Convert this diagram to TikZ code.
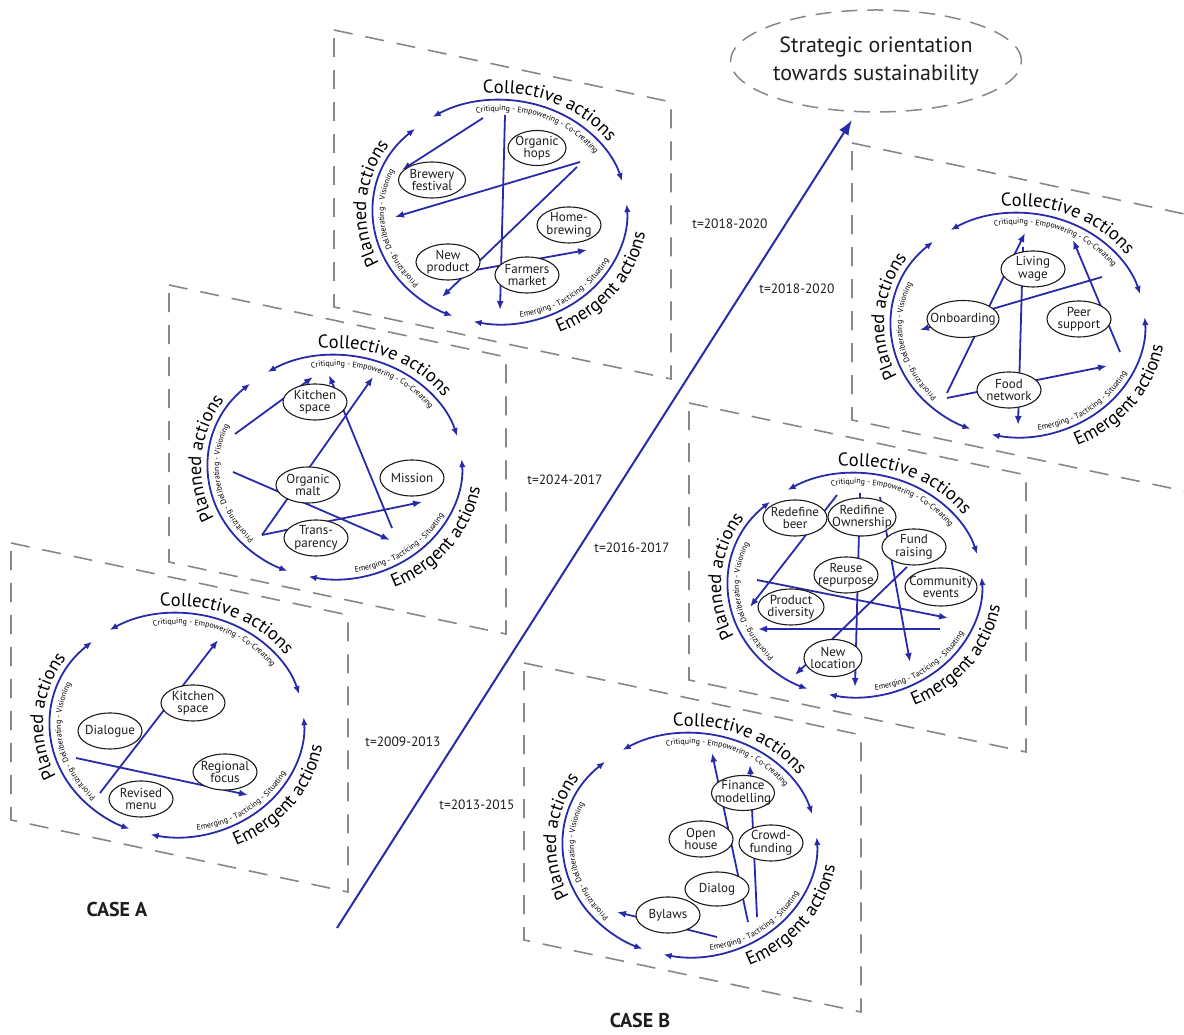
\documentclass[tikz,border=0pt]{standalone}
\usepackage{fontspec}
\setmainfont{PT Sans}
\usetikzlibrary{arrows.meta,shapes.geometric,decorations.text}
\definecolor{ab}{RGB}{40,42,170}
\definecolor{pg}{RGB}{135,135,135}
\definecolor{tx}{RGB}{30,28,28}
\newcommand\cycleframe{%
  \draw[panel] (-166,182) -- (171,110) -- (171,-167) -- (-166,-95) -- cycle;
  \draw[arcarrow] (122:127pt and 112pt) arc[start angle=122,end angle=16,x radius=127pt,y radius=112pt];
  \draw[arcarrow] (132:127pt and 112pt) arc[start angle=132,end angle=248,x radius=127pt,y radius=112pt];
  \draw[arcarrow] (258:127pt and 112pt) arc[start angle=258,end angle=364,x radius=127pt,y radius=112pt];
  \path[decorate,decoration={text along path,text align=center,text={|\fontsize{18.5}{18}\selectfont|Collective actions}}]
    (130:134pt and 119pt) arc[start angle=130,end angle=0,x radius=134pt,y radius=119pt];
  \path[decorate,decoration={text along path,text align=center,text={|\fontsize{8}{8}\selectfont|Critiquing - Empowering - Co-Creating}}]
    (130:116pt and 101pt) arc[start angle=130,end angle=4,x radius=116pt,y radius=101pt];
  \path[decorate,decoration={text along path,text align=center,text={|\fontsize{18.5}{18}\selectfont|Planned actions}}]
    (235:134pt and 119pt) arc[start angle=235,end angle=117,x radius=134pt,y radius=119pt];
  \path[decorate,decoration={text along path,text align=center,text={|\fontsize{8}{8}\selectfont|Prioritizing - Deliberating - Visioning}}]
    (252:116pt and 101pt) arc[start angle=252,end angle=128,x radius=116pt,y radius=101pt];
  \path[decorate,decoration={text along path,text align=center,text={|\fontsize{18.5}{18}\selectfont|Emergent actions}}]
    (280:147pt and 132pt) arc[start angle=280,end angle=366,x radius=147pt,y radius=132pt];
  \path[decorate,decoration={text along path,text align=center,text={|\fontsize{8}{8}\selectfont|Emerging - Tacticing - Situating}}]
    (268:122pt and 107pt) arc[start angle=268,end angle=346,x radius=122pt,y radius=107pt];
}
\begin{document}
\begin{tikzpicture}[x=1pt,y=1pt,
  panel/.style={draw=pg,line width=1.6pt,dash pattern=on 19pt off 13pt},
  arcarrow/.style={draw=ab,line width=1.8pt,{Latex[length=8pt,width=6.5pt]}-{Latex[length=8pt,width=6.5pt]}},
  flow/.style={draw=ab,line width=1.8pt,-{Latex[length=9pt,width=7pt]}},
  act/.style={ellipse,draw=tx,line width=1.1pt,fill=white,minimum width=64pt,minimum height=36pt,inner sep=0pt},
  lbl/.style={font=\fontsize{13}{12.5}\selectfont,align=center,inner sep=0pt,text=tx},
  tlabel/.style={font=\fontsize{13.5}{15}\selectfont,inner sep=1pt,text=tx},
  case/.style={font=\fontsize{20}{20}\selectfont\bfseries,inner sep=1pt,text=tx},
]
\useasboundingbox (0,0) rectangle (1184,1034);

% ---------------- Case A, 2009-2013
\begin{scope}[shift={(177,309)}]
  \cycleframe
  \coordinate (a1p1) at (-77,-68); \coordinate (a1c1) at (41,85);
  \coordinate (a1p2) at (-101,-33); \coordinate (a1e2) at (71,-70);
  \draw[flow] (a1p1) -- (a1c1);
  \draw[flow] (a1p2) -- (a1e2);
  \node[act,label={[lbl]center:{Kitchen\\space}}] (a1ks) at (16,22) {};
  \node[act,label={[lbl]center:{Dialogue}}] (a1dl) at (-67,-6) {};
  \node[act,label={[lbl]center:{Regional\\focus}}] (a1rf) at (48,-47) {};
  \node[act,label={[lbl]center:{Revised\\menu}}] (a1rm) at (-36,-74) {};
\end{scope}

% ---------------- Case A, 2014-2017
\begin{scope}[shift={(335,567)}]
  \cycleframe
  \coordinate (a2p1) at (-100,33); \coordinate (a2c1) at (-22,90);
  \coordinate (a2p2) at (-73,-68); \coordinate (a2c2) at (38,90);
  \coordinate (a2p3) at (-102,-5); \coordinate (a2e3) at (55,-73);
  \coordinate (a2e4) at (87,-35);
  \coordinate (a2e5) at (57,-61); \coordinate (a2c5) at (-6,92);
  \draw[flow] (a2p1) -- (a2c1);
  \draw[flow] (a2p2) -- (a2c2);
  \draw[flow] (a2p3) -- (a2e3);
  \draw[flow] (a2p2) -- (a2e4);
  \draw[flow] (a2e5) -- (a2c5);
  \node[act,label={[lbl]center:{Kitchen\\space}}] (a2ks) at (-20,65) {};
  \node[act,label={[lbl]center:{Organic\\malt}}] (a2om) at (-27,-18) {};
  \node[act,label={[lbl]center:{Mission}}] (a2mi) at (77,-11) {};
  \node[act,label={[lbl]center:{Trans-\\parency}}] (a2tp) at (-19,-71) {};
\end{scope}

% ---------------- Case A, 2018-2020
\begin{scope}[shift={(500,822)}]
  \cycleframe
  \coordinate (a3c1) at (-17,94); \coordinate (a3p1) at (-98,42);
  \coordinate (a3c2) at (5,97); \coordinate (a3e2) at (0,-98);
  \coordinate (a3c3) at (80,50); \coordinate (a3p3) at (-105,-5);
  \coordinate (a3c4) at (77,45); \coordinate (a3p4) at (-58,-85);
  \coordinate (a3s5) at (-52,-63); \coordinate (a3e5) at (87,-38);
  \draw[flow] (a3c1) -- (a3p1);
  \draw[flow] (a3c2) -- (a3e2);
  \draw[flow] (a3c3) -- (a3p3);
  \draw[flow] (a3c4) -- (a3p4);
  \draw[flow] (a3s5) -- (a3e5);
  \node[act,minimum width=58pt,minimum height=35pt,label={[lbl]center:{Organic\\hops}}] (a3oh) at (37,64) {};
  \node[act,minimum width=67pt,label={[lbl]center:{Brewery\\festival}}] (a3bf) at (-68,32) {};
  \node[act,label={[lbl]center:{Home-\\brewing}}] (a3hb) at (69,-13) {};
  \node[act,label={[lbl]center:{New\\product}}] (a3np) at (-52,-50) {};
  \node[act,label={[lbl]center:{Farmers\\market}}] (a3fm) at (27,-63) {};
\end{scope}

% ---------------- Case B, 2013-2015
\begin{scope}[shift={(690,189)}]
  \cycleframe
  \coordinate (b1e1) at (58,-77); \coordinate (b1c1) at (22,92);
  \coordinate (b1e2) at (67,-72); \coordinate (b1c2) at (60,80);
  \coordinate (b1e3) at (27,-92); \coordinate (b1p3) at (-73,-67);
  \draw[flow] (b1e1) -- (b1c1);
  \draw[flow] (b1e2) -- (b1c2);
  \draw[flow] (b1e3) -- (b1p3);
  \node[act,minimum width=63pt,minimum height=35pt,label={[lbl]center:{Finance\\modelling}}] (b1fm) at (53,52) {};
  \node[act,label={[lbl]center:{Open\\house}}] (b1oh) at (11,6) {};
  \node[act,label={[lbl]center:{Crowd-\\funding}}] (b1cf) at (81,2) {};
  \node[act,minimum height=34pt,label={[lbl]center:{Dialog}}] (b1dg) at (27,-44) {};
  \node[act,label={[lbl]center:{Bylaws}}] (b1bl) at (-22,-70) {};
\end{scope}

% ---------------- Case B, 2016-2017
\begin{scope}[shift={(855,449)}]
  \cycleframe
  \coordinate (b2c1) at (-18,90); \coordinate (b2p1) at (-105,-22);
  \coordinate (b2c2) at (5,92); \coordinate (b2e2) at (0,-102);
  \coordinate (b2c3) at (25,88); \coordinate (b2e3) at (55,-77);
  \coordinate (b2s4) at (52,18); \coordinate (b2p4) at (-60,-90);
  \coordinate (b2p5) at (-98,5); \coordinate (b2e5) at (93,-33);
  \coordinate (b2e6) at (85,-44); \coordinate (b2p6) at (-97,-44);
  \draw[flow] (b2c1) -- (b2p1);
  \draw[flow] (b2c2) -- (b2e2);
  \draw[flow] (b2c3) -- (b2e3);
  \draw[flow] (b2s4) -- (b2p4);
  \draw[flow] (b2p5) -- (b2e5);
  \draw[flow] (b2e6) -- (b2p6);
  \node[act,label={[lbl]center:{Redefine\\beer}}] (b2rb) at (-60,67) {};
  \node[act,minimum width=68pt,minimum height=38pt,label={[lbl]center:{Redifine\\Ownership}}] (b2ro) at (7,68) {};
  \node[act,label={[lbl]center:{Fund\\raising}}] (b2fr) at (59,38) {};
  \node[act,label={[lbl]center:{Reuse\\repurpose}}] (b2rr) at (-9,10) {};
  \node[act,minimum width=72pt,minimum height=38pt,label={[lbl]center:{Community\\events}}] (b2ce) at (86,-2) {};
  \node[act,minimum width=66pt,label={[lbl]center:{Product\\diversity}}] (b2pd) at (-64,-22) {};
  \node[act,minimum width=58pt,minimum height=37pt,label={[lbl]center:{New\\location}}] (b2nl) at (-22,-73) {};
\end{scope}

% ---------------- Case B, 2018-2020
\begin{scope}[shift={(1018,709)}]
  \cycleframe
  \coordinate (b3p1) at (-71,-68); \coordinate (b3c1) at (7,92);
  \coordinate (b3c2) at (84,48); \coordinate (b3p2) at (-98,-5);
  \coordinate (b3p3) at (-71,-73); \coordinate (b3e3) at (89,-41);
  \coordinate (b3c4) at (5,78); \coordinate (b3e4) at (0,-100);
  \coordinate (b3e5) at (102,-27); \coordinate (b3c5) at (55,85);
  \draw[flow] (b3p1) -- (b3c1);
  \draw[flow] (b3c2) -- (b3p2);
  \draw[flow] (b3p3) -- (b3e3);
  \draw[flow] (b3c4) -- (b3e4);
  \draw[flow] (b3e5) -- (b3c5);
  \node[act,label={[lbl]center:{Living\\wage}}] (b3lw) at (15,56) {};
  \node[act,minimum width=72pt,minimum height=37pt,label={[lbl]center:{Onboarding}}] (b3ob) at (-55,6) {};
  \node[act,label={[lbl]center:{Peer\\support}}] (b3ps) at (61,6) {};
  \node[act,label={[lbl]center:{Food\\network}}] (b3fn) at (-9,-65) {};
\end{scope}

% ---------------- goal and time axis
\node[ellipse,draw=pg,line width=1.5pt,dash pattern=on 16pt off 10pt,minimum width=252pt,minimum height=102pt,
      font=\fontsize{22}{28}\selectfont,align=center,text=tx,inner sep=0pt] (goal) at (876,973)
      {Strategic orientation\\towards sustainability};
\coordinate (axstart) at (337,106);
\coordinate (axtip) at (852,914);
\draw[draw=ab,line width=2pt,-{Latex[length=15pt,width=11pt]}] (axstart) -- (axtip);

\node[tlabel] (ta1) at (403,292) {t=2009-2013};
\node[tlabel] (ta2) at (565,554) {t=2024-2017};
\node[tlabel] (ta3) at (730,810) {t=2018-2020};
\node[tlabel] (tb1) at (477,229) {t=2013-2015};
\node[tlabel] (tb2) at (632,486) {t=2016-2017};
\node[tlabel] (tb3) at (797,745) {t=2018-2020};

\node[case] (casea) at (117,124) {CASE A};
\node[case] (caseb) at (640,13) {CASE B};
\end{tikzpicture}
\end{document}
